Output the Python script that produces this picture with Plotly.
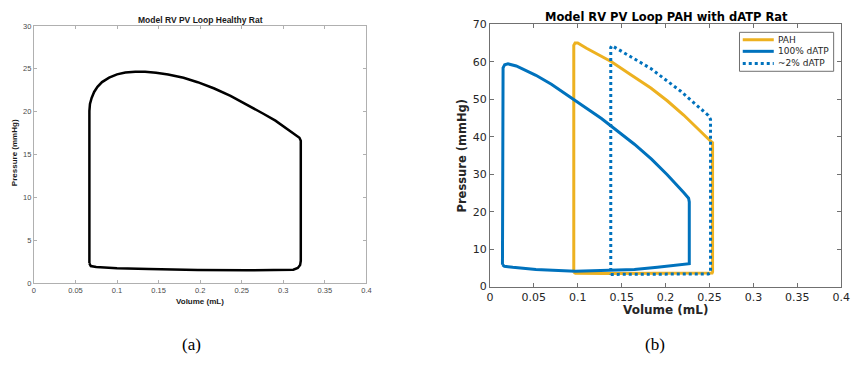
import plotly.graph_objects as go

# ---- Healthy rat RV pressure-volume loop (volume in mL, pressure in mmHg) ----
healthy_vol = [0.0668, 0.0685, 0.0750, 0.0825, 0.1000, 0.1380, 0.1970, 0.2560,
               0.3036, 0.3120, 0.3174, 0.3202, 0.3210, 0.3210, 0.3194, 0.3125,
               0.3036, 0.2905, 0.2760, 0.2560, 0.2365, 0.2170, 0.1970, 0.1800,
               0.1615, 0.1470, 0.1338, 0.1220, 0.1100, 0.1000, 0.0905, 0.0820,
               0.0765, 0.0725, 0.0695, 0.0675, 0.0668, 0.0668]
healthy_p = [2.30, 1.98, 1.87, 1.83, 1.74, 1.65, 1.53, 1.50,
             1.50, 1.55, 1.76, 2.10, 2.60, 16.6, 16.95, 17.45,
             18.07, 18.95, 19.76, 20.85, 21.83, 22.70, 23.44, 23.95,
             24.34, 24.55, 24.66, 24.66, 24.56, 24.35, 23.97, 23.45,
             22.90, 22.30, 21.60, 20.90, 20.10, 2.30]

# ---- PAH rat ----
pah_vol = [0.0955, 0.0975, 0.1300, 0.2000, 0.2500, 0.2530, 0.2535, 0.2535,
           0.2505, 0.2393, 0.2206, 0.2019, 0.1832, 0.1600, 0.1384, 0.1100,
           0.1000, 0.0970, 0.0955, 0.0955]
pah_p = [3.80, 3.55, 3.50, 3.50, 3.55, 3.65, 3.90, 38.4,
         39.0, 41.5, 45.8, 49.6, 53.0, 56.6, 60.0, 63.6,
         65.0, 65.0, 64.4, 3.80]

# ---- PAH with 100% dATP ----
datp100_vol = [0.0143, 0.0165, 0.0260, 0.0524, 0.0972, 0.1384, 0.1645, 0.1907,
               0.2262, 0.2270, 0.2270, 0.2262, 0.2206, 0.2019, 0.1840, 0.1645,
               0.1270, 0.1080, 0.0897, 0.0700, 0.0524, 0.0300, 0.0206, 0.0168,
               0.0150, 0.0143]
datp100_p = [5.83, 5.45, 5.15, 4.55, 4.10, 4.30, 4.55, 5.20,
             6.00, 6.10, 22.6, 23.6, 25.1, 29.85, 34.0, 38.0,
             44.85, 47.9, 50.9, 54.0, 56.4, 58.9, 59.44, 59.2,
             58.4, 5.83]

# ---- PAH with ~2% dATP ----
datp2_vol = [0.1376, 0.1800, 0.2300, 0.2490, 0.2512, 0.2512, 0.2486, 0.2337,
             0.2169, 0.1832, 0.1458, 0.1390, 0.1376, 0.1376]
datp2_p = [3.26, 3.26, 3.26, 3.40, 3.70, 44.6, 45.7, 48.7,
           52.2, 58.2, 63.3, 64.3, 63.8, 3.26]

vol_ticks = [0, 0.05, 0.1, 0.15, 0.2, 0.25, 0.3, 0.35, 0.4]
vol_tick_text = ["0", "0.05", "0.1", "0.15", "0.2", "0.25", "0.3", "0.35", "0.4"]
healthy_p_ticks = [0, 5, 10, 15, 20, 25, 30]
pah_p_ticks = [0, 10, 20, 30, 40, 50, 60, 70]

W, H = 866, 365

def px_x(x):
    return x / W

def px_y(y):
    return 1 - y / H

fig = go.Figure()

fig.add_trace(go.Scatter(x=healthy_vol, y=healthy_p, mode="lines",
                         line=dict(color="#000000", width=2.5),
                         xaxis="x", yaxis="y", showlegend=False,
                         hoverinfo="skip"))

pah_traces = [
    ("PAH", pah_vol, pah_p, "#EDB120", "solid"),
    ("100% dATP", datp100_vol, datp100_p, "#0072BD", "solid"),
    ("~2% dATP", datp2_vol, datp2_p, "#0072BD", "dot"),
]
for name, xs, ys, color, dash in pah_traces:
    fig.add_trace(go.Scatter(x=xs, y=ys, mode="lines", name=name,
                             line=dict(color=color, width=3, dash=dash),
                             xaxis="x2", yaxis="y2", showlegend=False))

left_font = dict(family="Liberation Sans, Arial, sans-serif", size=7.5, color="#4a4a4a")
right_font = dict(family="DejaVu Sans, sans-serif", size=11, color="#262626")

left_axis = dict(showline=True, linecolor="#b0b0b0", linewidth=1, mirror="ticks",
                 ticks="inside", ticklen=3, tickcolor="#b0b0b0", showgrid=False,
                 zeroline=False, tickfont=left_font)
right_axis = dict(showline=True, linecolor="#707070", linewidth=1, mirror="ticks",
                  ticks="inside", ticklen=4, tickcolor="#707070", showgrid=False,
                  zeroline=False, tickfont=right_font)

fig.update_layout(
    width=W, height=H,
    margin=dict(l=0, r=0, t=0, b=0),
    paper_bgcolor="white", plot_bgcolor="white",
    xaxis=dict(domain=[px_x(30.3), px_x(368)], range=[0, 0.4],
               tickvals=vol_ticks, ticktext=vol_tick_text, anchor="y", **left_axis),
    yaxis=dict(domain=[px_y(287.3), px_y(20.7)], range=[0, 30],
               tickvals=healthy_p_ticks, anchor="x", **left_axis),
    xaxis2=dict(domain=[px_x(493.3), px_x(850)], range=[0, 0.4],
                tickvals=vol_ticks, ticktext=vol_tick_text, anchor="y2", **right_axis),
    yaxis2=dict(domain=[px_y(291), px_y(19)], range=[0, 70],
                tickvals=pah_p_ticks, anchor="x2", **right_axis),
    showlegend=False,
)

# Compact boxed legend for panel (b), built from the trace styles above
legend_font = dict(family="DejaVu Sans, sans-serif", size=9, color="#262626")
shapes = [dict(type="rect", xref="paper", yref="paper",
               x0=px_x(746.7), x1=px_x(842.3), y0=px_y(67.7), y1=px_y(27.3),
               line=dict(color="#707070", width=1), fillcolor="white", layer="above")]
legend_rows = [35.0, 47.0, 59.5]
annotations = []
for (name, _, _, color, dash), row in zip(pah_traces, legend_rows):
    shapes.append(dict(type="line", xref="paper", yref="paper",
                       x0=px_x(750), x1=px_x(781.5), y0=px_y(row), y1=px_y(row),
                       line=dict(color=color, width=3, dash=dash), layer="above"))
    annotations.append(dict(text=name, x=px_x(784), y=px_y(row), xanchor="left",
                            font=legend_font))

annotations += [
    # panel (a)
    dict(text="<b>Model RV PV Loop Healthy Rat</b>", x=px_x(199), y=px_y(14.7),
         font=dict(family="Liberation Sans, Arial, sans-serif", size=8.5, color="#1a1a1a")),
    dict(text="<b>Volume (mL)</b>", x=px_x(199), y=px_y(306),
         font=dict(family="Liberation Sans, Arial, sans-serif", size=8, color="#1a1a1a")),
    dict(text="<b>Pressure (mmHg)</b>", x=px_x(10.7), y=px_y(152), textangle=-90,
         font=dict(family="Liberation Sans, Arial, sans-serif", size=8, color="#1a1a1a")),
    # panel (b)
    dict(text="<b>Model RV PV Loop PAH with dATP Rat</b>", x=px_x(672.5), y=px_y(11),
         font=dict(family="DejaVu Sans, sans-serif", size=11.5, color="#000000")),
    dict(text="<b>Volume (mL)</b>", x=px_x(671.5), y=px_y(315.5),
         font=dict(family="DejaVu Sans, sans-serif", size=12, color="#262626")),
    dict(text="<b>Pressure (mmHg)</b>", x=px_x(465), y=px_y(155), textangle=-90,
         font=dict(family="DejaVu Sans, sans-serif", size=11.5, color="#262626")),
    # captions
    dict(text="(a)", x=px_x(190), y=px_y(351),
         font=dict(family="Liberation Serif, Times New Roman, serif", size=17, color="#000000")),
    dict(text="(b)", x=px_x(661), y=px_y(351),
         font=dict(family="Liberation Serif, Times New Roman, serif", size=17, color="#000000")),
]
for a in annotations:
    a.setdefault("xanchor", "center")
    a.update(xref="paper", yref="paper", showarrow=False, yanchor="middle")
fig.update_layout(annotations=annotations, shapes=shapes)

fig.write_html("out.html")
